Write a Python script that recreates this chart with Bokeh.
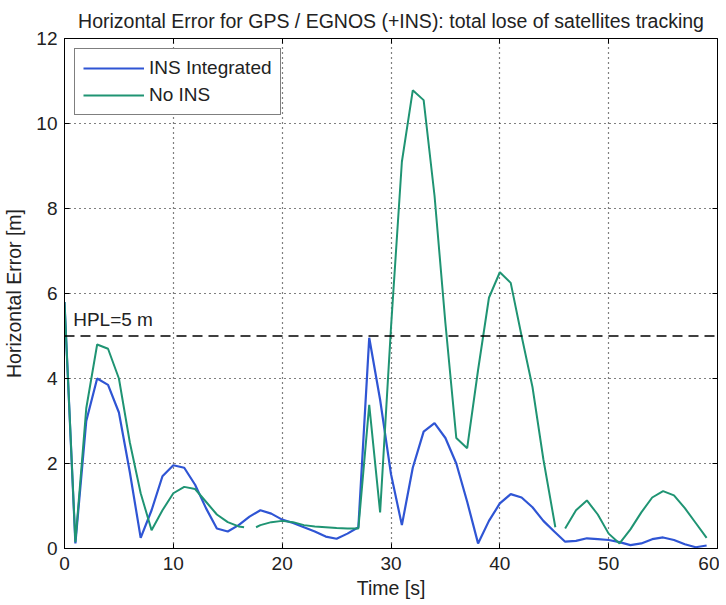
import math
from bokeh.plotting import figure
from bokeh.models import (Range1d, LinearAxis, Legend, LegendItem, Span, Label,
                          FixedTicker, CustomJSTickFormatter)
from bokeh.embed import file_html
from bokeh.resources import INLINE

nan = float("nan")

# ---- data ----
time_ins = list(range(0, 60))
err_ins = [5.8, 0.12, 3.0, 4.0, 3.85, 3.2, 1.8, 0.25, 0.9, 1.7,
           1.96, 1.9, 1.5, 0.95, 0.47, 0.4, 0.55, 0.75, 0.9, 0.82,
           0.68, 0.6, 0.5, 0.4, 0.28, 0.23, 0.35, 0.5, 4.96, 3.5,
           1.75, 0.55, 1.9, 2.75, 2.95, 2.6, 2.0, 1.1, 0.12, 0.65,
           1.06, 1.28, 1.2, 0.97, 0.65, 0.4, 0.16, 0.18, 0.24, 0.22,
           0.2, 0.15, 0.08, 0.12, 0.22, 0.26, 0.2, 0.1, 0.03, 0.07]

time_noins = [0, 1, 2, 3, 4, 5, 6, 7, 8, 9,
              10, 11, 12, 13, 14, 15, 16, 16.5, 17, 17.6,
              18, 19, 20, 21, 22, 23, 24, 25, 26, 27,
              28, 29, 30, 31, 32, 33, 34, 35, 36, 37,
              38, 39, 40, 41, 42, 43, 44, 45.1, 45.5, 46,
              47, 48, 49, 50, 51, 52, 53, 54, 55, 56,
              57, 58, 59]
err_noins = [5.8, 0.15, 3.3, 4.8, 4.7, 4.0, 2.5, 1.3, 0.43, 0.9,
             1.3, 1.45, 1.4, 1.1, 0.8, 0.62, 0.52, 0.5, nan, 0.5,
             0.55, 0.62, 0.65, 0.62, 0.55, 0.52, 0.5, 0.48, 0.47, 0.47,
             3.38, 0.85, 5.2, 9.1, 10.78, 10.55, 8.3, 5.3, 2.6, 2.36,
             4.2, 5.9, 6.5, 6.25, 5.0, 3.8, 2.1, 0.5, nan, 0.47,
             0.9, 1.13, 0.8, 0.35, 0.12, 0.45, 0.85, 1.2, 1.35, 1.25,
             0.95, 0.6, 0.25]

hpl_value = 5
x_ticks = [0, 10, 20, 30, 40, 50, 60]
y_ticks = [0, 2, 4, 6, 8, 10, 12]

FONT = "Liberation Sans"
BLUE = "#2f55d4"
GREEN = "#1f9473"
TXT = "#222222"

p = figure(frame_width=653, frame_height=510,
           x_range=Range1d(0, 60), y_range=Range1d(0, 12),
           output_backend="svg", toolbar_location=None,
           min_border_left=0, min_border_right=2, min_border_top=0,
           min_border_bottom=0)
p.background_fill_color = "white"
p.border_fill_color = "white"
p.outline_line_color = "black"
p.outline_line_width = 1

p.title.text = "Horizontal Error for GPS / EGNOS (+INS): total lose of satellites tracking"
p.title.align = "center"
p.title.text_font = FONT
p.title.text_font_size = "19.5px"
p.title.text_font_style = "normal"
p.title.text_color = TXT
p.title.standoff = 14

for ax in (p.xaxis[0], p.yaxis[0]):
    ax.major_tick_in = 5
    ax.major_tick_out = 0
    ax.minor_tick_in = 0
    ax.minor_tick_out = 0
    ax.major_label_text_font = FONT
    ax.major_label_text_font_size = "19px"
    ax.major_label_text_color = TXT
    ax.axis_label_text_font = FONT
    ax.axis_label_text_font_size = "19.5px"
    ax.axis_label_text_font_style = "normal"
    ax.axis_label_text_color = TXT
    ax.axis_line_color = "black"

p.xaxis.ticker = FixedTicker(ticks=x_ticks)
p.yaxis.ticker = FixedTicker(ticks=y_ticks)
p.xaxis.axis_label = "Time [s]"
p.yaxis.axis_label = "Horizontal Error [m]"
p.xaxis.major_label_standoff = 8
p.xaxis.axis_label_standoff = 4
p.yaxis.major_label_standoff = 7
p.yaxis.axis_label_standoff = 8

# mirror ticks on top and right (MATLAB box)
blank = CustomJSTickFormatter(code="return '';")
top = LinearAxis(ticker=FixedTicker(ticks=x_ticks), major_tick_in=5, major_tick_out=0,
                 minor_tick_in=0, minor_tick_out=0, formatter=blank,
                 major_label_standoff=0, axis_line_color=None)
right = LinearAxis(ticker=FixedTicker(ticks=y_ticks), major_tick_in=5, major_tick_out=0,
                   minor_tick_in=0, minor_tick_out=0, formatter=blank,
                   major_label_standoff=0, axis_line_color=None)
p.add_layout(top, "above")
p.add_layout(right, "right")

p.xgrid.ticker = FixedTicker(ticks=x_ticks[1:-1])
p.ygrid.ticker = FixedTicker(ticks=y_ticks[1:-1])
for g in (p.xgrid[0], p.ygrid[0]):
    g.grid_line_color = "black"
    g.grid_line_dash = "1 4"
    g.grid_line_width = 1.2

hpl = Span(location=hpl_value, dimension="width", line_color="black",
           line_dash="10 6", line_width=1.5)
p.add_layout(hpl)
p.add_layout(Label(x=0.8, y=hpl_value + 0.15, text="HPL=5 m", text_font=FONT,
                   text_font_size="19px", text_color=TXT))

r_ins = p.line(time_ins, err_ins, line_color=BLUE, line_width=2.2)
r_no = p.line(time_noins, err_noins, line_color=GREEN, line_width=2)

legend = Legend(items=[LegendItem(label="INS Integrated", renderers=[r_ins]),
                       LegendItem(label="No INS", renderers=[r_no])],
                location="top_left", margin=10, padding=8, spacing=5,
                glyph_width=61, glyph_height=20, label_height=20,
                label_standoff=5,
                label_text_font=FONT, label_text_font_size="19px",
                label_text_color=TXT,
                border_line_color="black", border_line_width=1,
                background_fill_color="white", background_fill_alpha=1)
p.add_layout(legend)

open("out.html", "w").write(file_html(p, INLINE))
